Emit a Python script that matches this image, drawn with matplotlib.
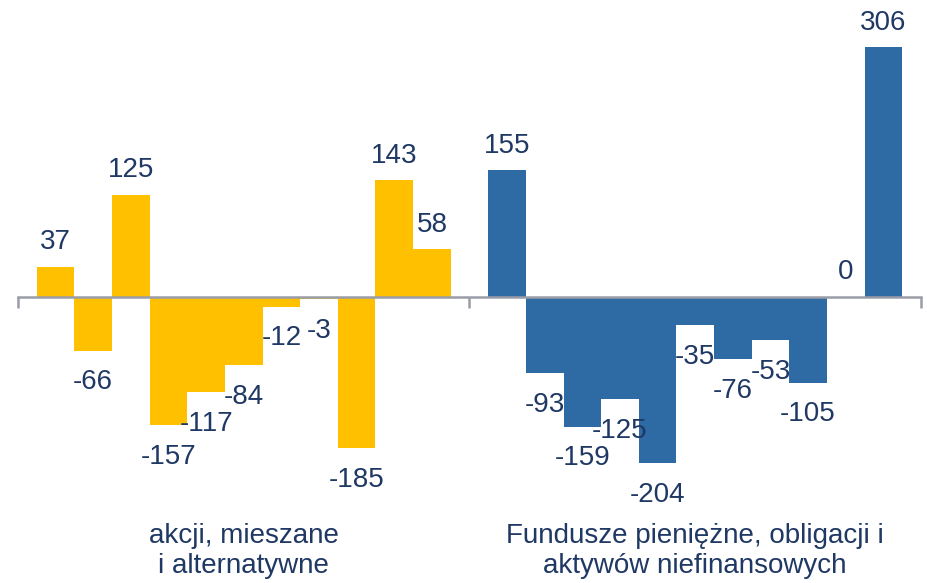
import matplotlib.pyplot as plt
import matplotlib.transforms as mtransforms

plt.rcParams['font.family'] = ['Liberation Sans', 'DejaVu Sans']

# dane
akcje = [37, -66, 125, -157, -117, -84, -12, -3, -185, 143, 58]
pieniezne = [155, -93, -159, -125, -204, -35, -76, -53, -105, 0, 306]
grupy = ['akcji, mieszane\ni alternatywne',
         'Fundusze pieniężne, obligacji i\naktywów niefinansowych']

kolor_akcje = '#FFC000'
kolor_pien = '#2E6BA4'
kolor_tekstu = '#1F3864'

fig = plt.figure(figsize=(9.28, 5.83), dpi=100)
ax = fig.add_axes([18 / 928, 82 / 583, 903 / 928, 490 / 583])

x1 = list(range(1, len(akcje) + 1))
x2 = list(range(13, 13 + len(pieniezne)))
ax.bar(x1, akcje, width=1.0, color=kolor_akcje, zorder=2)
ax.bar(x2, pieniezne, width=1.0, color=kolor_pien, zorder=2)

# etykiety wartosci
for xs, vals in [(x1, akcje), (x2, pieniezne)]:
    for x, v in zip(xs, vals):
        if v >= 0:
            ax.annotate(f'{v}', xy=(x, v), xytext=(0, 12.5), textcoords='offset points',
                        ha='center', va='baseline', fontsize=20, color=kolor_tekstu, zorder=5)
        else:
            ax.annotate(f'{v}', xy=(x, v), xytext=(0, -13.5), textcoords='offset points',
                        ha='center', va='top', fontsize=20, color=kolor_tekstu, zorder=5)

ax.set_xlim(0, 24)
ax.set_ylim(-250, 350)

for s in ['top', 'right', 'left']:
    ax.spines[s].set_visible(False)
ax.spines['bottom'].set_position(('data', 0))
ax.spines['bottom'].set_color('#9A9DA8')
ax.spines['bottom'].set_linewidth(1.8)
ax.spines['bottom'].set_zorder(3)
ax.set_xticks([0, 12, 24])
ax.set_xticklabels([])
ax.tick_params(axis='x', direction='out', length=8, width=1.8, color='#9A9DA8')
ax.set_yticks([])

# nazwy grup
trans = mtransforms.blended_transform_factory(ax.transData, fig.transFigure)
for xc, nazwa in zip([6, 18], grupy):
    ax.text(xc, 1 - 551 / 583, nazwa, transform=trans, ha='center', va='center',
            fontsize=20, color=kolor_tekstu, linespacing=1.22)

fig.savefig('out.png', dpi=100)
